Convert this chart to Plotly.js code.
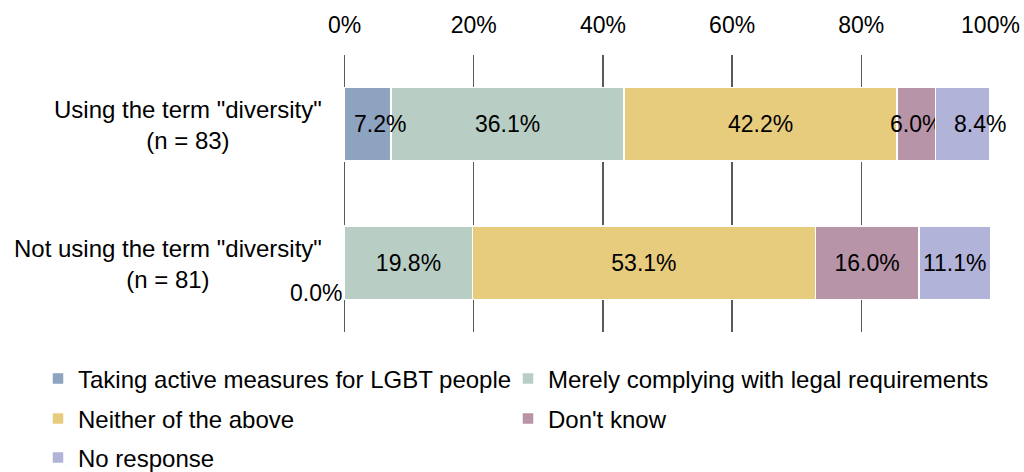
<!DOCTYPE html>
<html>
<head>
<meta charset="utf-8">
<script src="https://cdn.plot.ly/plotly-3.0.1.min.js"></script>
<style>html,body{margin:0;padding:0;background:#fff;}#chart{width:1024px;height:472px;}</style>
</head>
<body>
<div id="chart"></div>
<script>
const categories = ['Using the term "diversity"<br>(n = 83)', 'Not using the term "diversity"<br>(n = 81)'];
const seriesNames = ['Taking active measures for LGBT people', 'Merely complying with legal requirements', 'Neither of the above', "Don't know", 'No response'];
const takingActive = [7.2, 0.0];
const merelyComplying = [36.1, 19.8];
const neither = [42.2, 53.1];
const dontKnow = [6.0, 16.0];
const noResponse = [8.4, 11.1];
const tickValues = [0, 20, 40, 60, 80, 100];
const tickLabels = ['0%', '20%', '40%', '60%', '80%', '100%'];

const seriesValues = [takingActive, merelyComplying, neither, dontKnow, noResponse];
const colors = ['#8DA3BF', '#B8CDC4', '#E8CC7E', '#B794A8', '#B1B3D9'];
const legendIds = ['legend', 'legend2', 'legend3', 'legend4', 'legend5'];
const FONT = '"Liberation Sans", Arial, sans-serif';
// labels nudged sideways (pixels) where they spill over a narrow segment, as in the original
const labelNudge = {'0|0': 12, '4|0': 17};

const annotations = [];
const cumulative = categories.map(() => 0);

const traces = seriesValues.map((vals, i) => {
  const texts = vals.map((v, j) => {
    const start = cumulative[j];
    cumulative[j] += v;
    const key = i + '|' + j;
    if (v === 0) {
      annotations.push({
        xref: 'x', yref: 'y', x: start, y: categories[j], xanchor: 'right', yanchor: 'middle',
        xshift: -1, yshift: -30, text: v.toFixed(1) + '%', showarrow: false,
        font: {family: FONT, size: 23, color: '#000000'}
      });
      return '';
    }
    if (labelNudge[key] !== undefined) {
      annotations.push({
        xref: 'x', yref: 'y', x: start + v / 2, y: categories[j], xanchor: 'center', yanchor: 'middle',
        xshift: labelNudge[key], text: v.toFixed(1) + '%', showarrow: false,
        font: {family: FONT, size: 23, color: '#000000'}
      });
      return '';
    }
    return v.toFixed(1) + '%';
  });
  return {
    type: 'bar',
    orientation: 'h',
    name: seriesNames[i],
    y: categories,
    x: vals,
    width: 0.534,
    marker: {color: colors[i], line: {color: '#ffffff', width: 1.5}},
    text: texts,
    textposition: 'inside',
    insidetextanchor: 'middle',
    textangle: 0,
    constraintext: 'none',
    insidetextfont: {family: FONT, size: 23, color: '#000000'},
    cliponaxis: false,
    hoverinfo: 'skip',
    legend: legendIds[i]
  };
});

categories.forEach(c => {
  annotations.push({
    xref: 'paper', yref: 'y', x: 0, y: c, xanchor: 'right', yanchor: 'middle',
    xshift: -20, yshift: -1, text: c, showarrow: false, align: 'center',
    font: {family: FONT, size: 24, color: '#000000'}
  });
});

const legendBase = {
  orientation: 'h', xref: 'paper', yref: 'container', xanchor: 'left', yanchor: 'middle',
  font: {family: FONT, size: 24, color: '#000000'}, bgcolor: 'rgba(0,0,0,0)',
  itemwidth: 30, traceorder: 'normal'
};
const col1 = (38 - 344) / 647, col2 = (508 - 344) / 647;
const legendPos = [[col1, 379], [col2, 379], [col1, 419], [col2, 419], [col1, 458]];

const layout = {
  width: 1024, height: 472,
  margin: {l: 344, r: 33, t: 55, b: 140, pad: 0},
  paper_bgcolor: '#ffffff', plot_bgcolor: '#ffffff',
  barmode: 'stack',
  showlegend: true,
  xaxis: {
    side: 'top', range: [-0.08, 100.08], tickvals: tickValues, ticktext: tickLabels,
    showgrid: true, gridcolor: '#5A5A5A', gridwidth: 1.3,
    zeroline: true, zerolinecolor: '#5A5A5A', zerolinewidth: 1.6,
    showline: false, ticks: '', ticklabelstandoff: 16,
    tickfont: {family: FONT, size: 23, color: '#000000'}, fixedrange: true
  },
  yaxis: {
    type: 'category', categoryorder: 'array', categoryarray: categories,
    range: [1.5, -0.5], showticklabels: false, showgrid: false,
    zeroline: false, showline: false, ticks: '', fixedrange: true
  },
  annotations: annotations
};
legendIds.forEach((id, i) => {
  layout[id] = Object.assign({}, legendBase, {x: legendPos[i][0], y: 1 - legendPos[i][1] / 472});
});

Plotly.newPlot('chart', traces, layout, {displayModeBar: false, staticPlot: true});
</script>
</body>
</html>
